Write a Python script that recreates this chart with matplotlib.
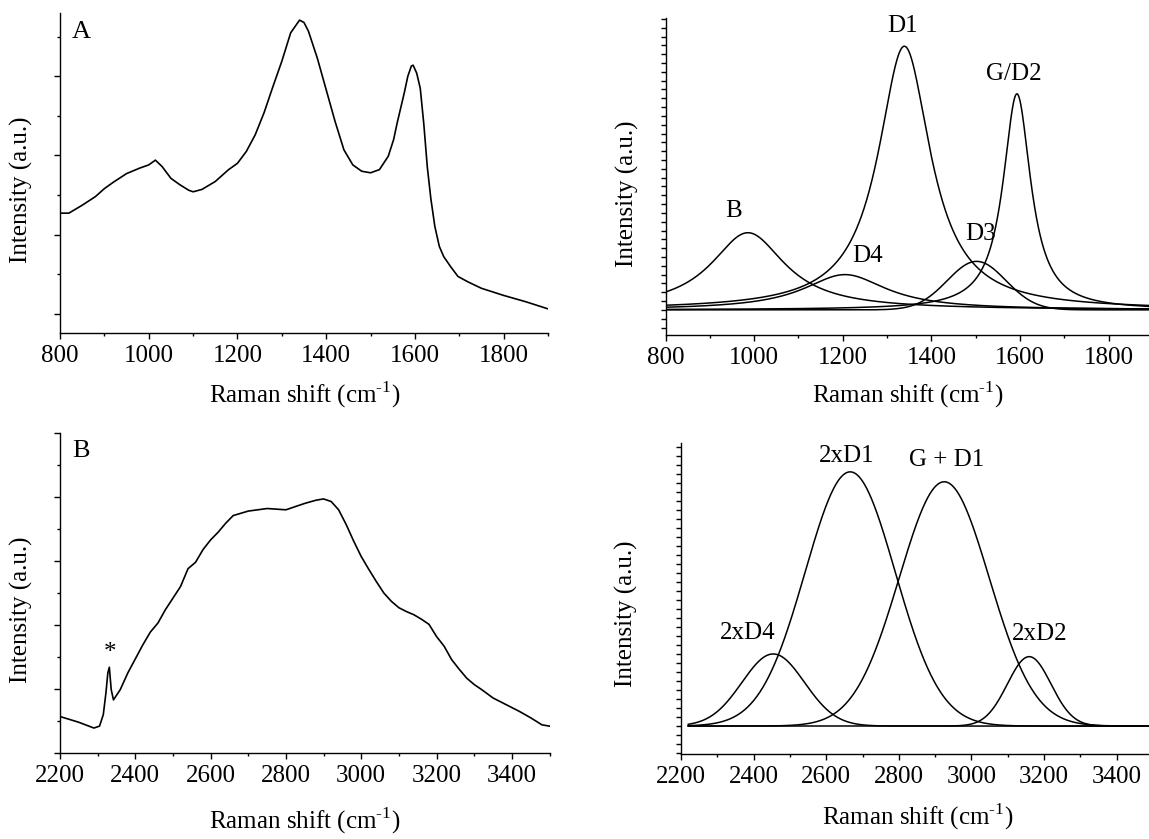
import numpy as np
import matplotlib.pyplot as plt
from matplotlib.ticker import MultipleLocator, NullFormatter

plt.rcParams['font.family'] = ['Liberation Serif', 'DejaVu Serif']
plt.rcParams['mathtext.fontset'] = 'custom'
plt.rcParams['mathtext.rm'] = 'Liberation Serif'

# --- first order spectrum (panel A)
a_shift = [800, 820, 850, 880, 900, 920, 950, 980, 1000, 1015, 1030, 1050, 1070, 1090,
           1100, 1120, 1150, 1180, 1200, 1220, 1240, 1260, 1280, 1300, 1320, 1340, 1350,
           1360, 1380, 1400, 1420, 1440, 1460, 1480, 1500, 1520, 1540, 1552, 1560, 1576,
           1584, 1592, 1596, 1604, 1612, 1620, 1628, 1636, 1645, 1655, 1665, 1681, 1697,
           1720, 1750, 1800, 1850, 1900]
a_int = [1.27, 1.27, 1.37, 1.48, 1.58, 1.66, 1.77, 1.84, 1.88, 1.94, 1.86, 1.71, 1.63, 1.56,
         1.54, 1.57, 1.67, 1.82, 1.90, 2.05, 2.26, 2.54, 2.87, 3.19, 3.55, 3.71, 3.68,
         3.57, 3.23, 2.83, 2.43, 2.07, 1.88, 1.80, 1.78, 1.82, 1.99, 2.20, 2.41, 2.79,
         3.00, 3.13, 3.14, 3.04, 2.85, 2.40, 1.85, 1.45, 1.10, 0.85, 0.72, 0.59, 0.47,
         0.40, 0.32, 0.23, 0.15, 0.06]

# --- second order spectrum (panel B)
b_shift = [2200, 2250, 2290, 2305, 2315, 2322, 2327, 2331, 2336, 2342, 2360, 2380, 2400,
           2420, 2440, 2460, 2480, 2500, 2520, 2540, 2560, 2580, 2600, 2620, 2640, 2660,
           2700, 2750, 2800, 2850, 2880, 2900, 2920, 2940, 2960, 2980, 3000, 3020, 3040,
           3060, 3080, 3100, 3120, 3140, 3160, 3180, 3200, 3220, 3240, 3260, 3280, 3300,
           3320, 3350, 3380, 3400, 3420, 3450, 3480, 3500]
b_int = [0.57, 0.48, 0.39, 0.42, 0.60, 0.94, 1.25, 1.34, 0.99, 0.83, 0.99, 1.25, 1.47,
         1.69, 1.89, 2.03, 2.24, 2.42, 2.60, 2.88, 2.98, 3.18, 3.33, 3.45, 3.59, 3.71,
         3.78, 3.82, 3.80, 3.90, 3.95, 3.97, 3.93, 3.80, 3.57, 3.31, 3.07, 2.87, 2.68,
         2.50, 2.37, 2.27, 2.21, 2.16, 2.09, 2.01, 1.82, 1.67, 1.46, 1.31, 1.17, 1.07,
         0.99, 0.86, 0.77, 0.71, 0.65, 0.55, 0.44, 0.42]

# --- fitted first order bands (Lorentzian, D3 Gaussian)
band_names = ['B', 'D4', 'D1', 'D3', 'G/D2']
band_centers = [986, 1205, 1339, 1502, 1593]
band_heights = [8.75, 4.0, 29.9, 5.5, 24.5]
band_widths = [102, 115, 72, 66, 38]
band_shapes = ['L', 'L', 'L', 'G', 'L']
band_label_x = [954, 1255, 1334, 1510, 1585]
band_label_y = [11.2, 6.1, 32.2, 8.6, 26.7]

# --- fitted second order bands (Gaussian)
band2_names = ['2xD4', '2xD1', 'G + D1', '2xD2']
band2_centers = [2454, 2666, 2925, 3159]
band2_heights = [8.0, 28.2, 27.1, 7.7]
band2_sigmas = [86, 124, 124, 60]
band2_label_x = [2385, 2657, 2931, 3189]
band2_label_y = [10.3, 30.0, 29.5, 10.2]

W, H = 1149, 839
fig = plt.figure(figsize=(W / 100, H / 100), dpi=100)


def box(x0, y0, x1, y1):
    return [x0 / W, 1 - y1 / H, (x1 - x0) / W, (y1 - y0) / H]


def lorentz(x, c, h, w):
    return h / (1 + ((x - c) / w) ** 2)


def gauss(x, c, h, s):
    return h * np.exp(-(x - c) ** 2 / (2 * s ** 2))


xlabel = 'Raman shift (cm$^{\\mathrm{\u2010}1}$)'
fs = 18


def style(ax, xlab_pos, ylab_pos, fine_y):
    for s in ['top', 'right']:
        ax.spines[s].set_visible(False)
    for s in ['left', 'bottom']:
        ax.spines[s].set_linewidth(1.0)
    ax.xaxis.set_minor_locator(MultipleLocator(100))
    ax.xaxis.set_major_locator(MultipleLocator(200))
    ax.yaxis.set_major_formatter(NullFormatter())
    ax.tick_params(axis='x', which='major', length=4.5, width=1.0, labelsize=fs, pad=4)
    ax.tick_params(axis='x', which='minor', length=2.5, width=1.0)
    if fine_y:
        ax.yaxis.set_major_locator(MultipleLocator(1))
        ax.tick_params(axis='y', which='major', length=3.5, width=1.0)
    else:
        ax.tick_params(axis='y', which='major', length=4.5, width=1.0)
        ax.tick_params(axis='y', which='minor', length=2.5, width=1.0)
    ax.set_xlabel(xlabel, fontsize=fs)
    ax.set_ylabel('Intensity (a.u.)', fontsize=fs)
    p = ax.get_position()
    fx = (xlab_pos[0] / W - p.x0) / p.width
    fy = ((1 - xlab_pos[1] / H) - p.y0) / p.height
    ax.xaxis.set_label_coords(fx, fy)
    ax.xaxis.label.set_va('center')
    gx = (ylab_pos[0] / W - p.x0) / p.width
    gy = ((1 - ylab_pos[1] / H) - p.y0) / p.height
    ax.yaxis.set_label_coords(gx, gy)
    ax.yaxis.label.set_va('center')


# panel A
ax1 = fig.add_axes(box(60, 13, 548, 333))
ax1.plot(a_shift, a_int, color='black', lw=1.2)
ax1.set_xlim(800, 1900)
ax1.set_ylim(-0.245, 3.80)
ax1.yaxis.set_major_locator(MultipleLocator(1))
ax1.yaxis.set_minor_locator(MultipleLocator(0.5))
style(ax1, (305, 395), (21, 190), False)
ax1.text(800 + 21 / 0.443, 3.80 - 20 / 84.3, 'A', fontsize=19, ha='center', va='center')

# fitted first order
ax2 = fig.add_axes(box(665.5, 18, 1153, 335))
xs = np.linspace(800, 1900, 1101)
for c, h, w, sh in zip(band_centers, band_heights, band_widths, band_shapes):
    ys = gauss(xs, c, h, w) if sh == 'G' else lorentz(xs, c, h, w)
    ax2.plot(xs, ys, color='black', lw=1.1)
for name, lx, ly in zip(band_names, band_label_x, band_label_y):
    ax2.text(lx, ly, name, fontsize=fs, ha='center', va='center')
ax2.set_xlim(800, 1900)
ax2.set_ylim(-2.85, 33.1)
style(ax2, (908, 395), (627, 194), True)

# panel B
ax3 = fig.add_axes(box(60, 433, 549.5, 753))
ax3.plot(b_shift, b_int, color='black', lw=1.2)
ax3.set_xlim(2200, 3500)
ax3.set_ylim(0, 5)
ax3.yaxis.set_major_locator(MultipleLocator(1))
ax3.yaxis.set_minor_locator(MultipleLocator(0.5))
style(ax3, (305, 821), (21, 610), False)
ax3.text(2200 + 21 / 0.3765, 5 - 18 / 64.0, 'B', fontsize=19, ha='center', va='center')
ax3.text(2334, 1.56, '*', fontsize=18, ha='center', va='center')

# fitted second order
ax4 = fig.add_axes(box(681, 443, 1153, 754))
xs2 = np.linspace(2220, 3500, 1281)
for c, h, s in zip(band2_centers, band2_heights, band2_sigmas):
    ax4.plot(xs2, gauss(xs2, c, h, s), color='black', lw=1.1)
for name, lx, ly in zip(band2_names, band2_label_x, band2_label_y):
    ax4.text(lx, ly, name, fontsize=fs, ha='center', va='center')
ax4.set_xlim(2200, 3500)
ax4.set_ylim(-3.1, 31.4)
style(ax4, (918, 817), (626, 614), True)

fig.savefig('out.png', dpi=100)
